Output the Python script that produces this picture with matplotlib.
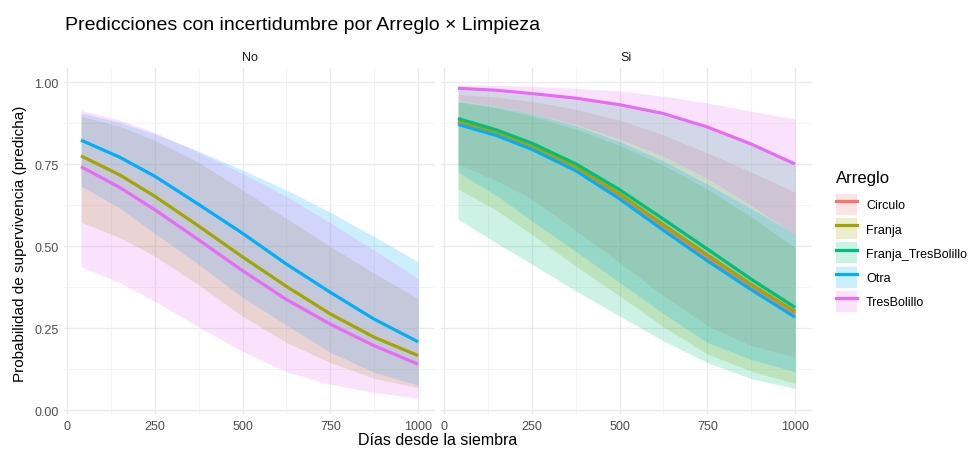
import matplotlib
matplotlib.use("Agg")
import matplotlib.pyplot as plt
from matplotlib.lines import Line2D
from matplotlib.patches import Patch
from matplotlib.legend_handler import HandlerTuple

plt.rcParams["font.family"] = ["Liberation Sans", "DejaVu Sans"]

# ── data ──────────────────────────────────────────────────────────────────
dias = [40, 150, 250, 375, 500, 625, 750, 875, 1000]
arreglos = ["Circulo", "Franja", "Franja_TresBolillo", "Otra", "TresBolillo"]
colores = ["#F8766D", "#A3A500", "#00BF7D", "#00B0F6", "#E76BF3"]

# Limpieza = No
no_franja_fit = [0.776, 0.718, 0.653, 0.562, 0.468, 0.378, 0.294, 0.223, 0.167]
no_franja_lo = [0.574, 0.527, 0.470, 0.383, 0.287, 0.207, 0.146, 0.098, 0.069]
no_franja_hi = [0.897, 0.866, 0.823, 0.756, 0.672, 0.585, 0.500, 0.418, 0.341]
no_otra_fit = [0.824, 0.772, 0.714, 0.628, 0.540, 0.446, 0.360, 0.278, 0.209]
no_otra_lo = [0.684, 0.617, 0.540, 0.445, 0.345, 0.260, 0.177, 0.116, 0.077]
no_otra_hi = [0.907, 0.878, 0.843, 0.790, 0.733, 0.672, 0.604, 0.530, 0.453]
no_tres_fit = [0.743, 0.680, 0.612, 0.520, 0.426, 0.338, 0.263, 0.197, 0.141]
no_tres_lo = [0.438, 0.390, 0.333, 0.255, 0.180, 0.118, 0.080, 0.055, 0.038]
no_tres_hi = [0.915, 0.885, 0.848, 0.786, 0.722, 0.652, 0.572, 0.488, 0.402]

# Limpieza = Si
si_circulo_fit = [0.878, 0.844, 0.802, 0.738, 0.654, 0.559, 0.466, 0.377, 0.294]
si_circulo_lo = [0.751, 0.700, 0.644, 0.548, 0.451, 0.349, 0.258, 0.197, 0.162]
si_circulo_hi = [0.964, 0.955, 0.942, 0.918, 0.885, 0.840, 0.785, 0.727, 0.665]
si_franja_fit = [0.882, 0.848, 0.807, 0.743, 0.660, 0.566, 0.474, 0.384, 0.301]
si_franja_lo = [0.675, 0.610, 0.537, 0.440, 0.349, 0.255, 0.172, 0.120, 0.082]
si_franja_hi = [0.940, 0.922, 0.897, 0.858, 0.808, 0.748, 0.675, 0.590, 0.497]
si_ftb_fit = [0.890, 0.855, 0.815, 0.752, 0.673, 0.583, 0.492, 0.400, 0.314]
si_ftb_lo = [0.583, 0.510, 0.446, 0.365, 0.288, 0.212, 0.146, 0.097, 0.067]
si_ftb_hi = [0.978, 0.972, 0.962, 0.948, 0.928, 0.900, 0.860, 0.808, 0.747]
si_otra_fit = [0.872, 0.838, 0.796, 0.731, 0.645, 0.549, 0.456, 0.368, 0.284]
si_otra_lo = [0.726, 0.655, 0.578, 0.485, 0.390, 0.295, 0.207, 0.155, 0.118]
si_otra_hi = [0.942, 0.926, 0.905, 0.868, 0.820, 0.760, 0.690, 0.615, 0.537]
si_tres_fit = [0.982, 0.976, 0.966, 0.952, 0.932, 0.905, 0.864, 0.812, 0.751]
si_tres_lo = [0.944, 0.928, 0.906, 0.872, 0.828, 0.775, 0.708, 0.625, 0.535]
si_tres_hi = [0.993, 0.991, 0.988, 0.982, 0.974, 0.958, 0.937, 0.912, 0.888]

paneles = {
    "No": {
        "Franja": (no_franja_fit, no_franja_lo, no_franja_hi),
        "Otra": (no_otra_fit, no_otra_lo, no_otra_hi),
        "TresBolillo": (no_tres_fit, no_tres_lo, no_tres_hi),
    },
    "Si": {
        "Circulo": (si_circulo_fit, si_circulo_lo, si_circulo_hi),
        "Franja": (si_franja_fit, si_franja_lo, si_franja_hi),
        "Franja_TresBolillo": (si_ftb_fit, si_ftb_lo, si_ftb_hi),
        "Otra": (si_otra_fit, si_otra_lo, si_otra_hi),
        "TresBolillo": (si_tres_fit, si_tres_lo, si_tres_hi),
    },
}

W, H = 974, 452
fig = plt.figure(figsize=(W / 100, H / 100), dpi=100)
fig.patch.set_facecolor("white")

gris = "#4D4D4D"
bottom_px, top_px = 415, 69
ax_lefts = [64, 441]
ax_w = 371

for i, (limp, series) in enumerate(paneles.items()):
    ax = fig.add_axes([ax_lefts[i] / W, (H - bottom_px) / H, ax_w / W, (bottom_px - top_px) / H])
    ax.set_xlim(-8.5, 1048)
    ax.set_ylim(-0.011, 1.044)
    for s in ax.spines.values():
        s.set_visible(False)
    ax.set_xticks([0, 250, 500, 750, 1000])
    ax.set_xticks([125, 375, 625, 875], minor=True)
    ax.set_yticks([0, 0.25, 0.5, 0.75, 1.0])
    ax.set_yticks([0.125, 0.375, 0.625, 0.875], minor=True)
    ax.grid(which="major", color="#EBEBEB", lw=1.0)
    ax.grid(which="minor", color="#F3F3F3", lw=0.6)
    ax.set_axisbelow(True)
    ax.tick_params(which="both", length=0, colors=gris, labelsize=9, pad=4)
    if i == 0:
        ax.set_yticklabels(["0.00", "0.25", "0.50", "0.75", "1.00"])
    else:
        ax.set_yticklabels([])
    ax.set_title(limp, fontsize=9, color="#1A1A1A", pad=6)

    # ribbons first, then lines (ggplot layer order)
    for name, col in zip(arreglos, colores):
        if name in series:
            fit, lo, hi = series[name]
            ax.fill_between(dias, lo, hi, color=col, alpha=0.2, lw=0)
    for name, col in zip(arreglos, colores):
        if name in series:
            fit, lo, hi = series[name]
            ax.plot(dias, fit, color=col, lw=2.3, solid_capstyle="butt")

fig.text(65 / W, 1 - 26 / H, "Predicciones con incertidumbre por Arreglo \u00d7 Limpieza",
         fontsize=14, color="black", va="center", ha="left")
fig.text(438 / W, 1 - 441 / H, "D\u00edas desde la siembra", fontsize=11.5,
         ha="center", va="center")
fig.text(20 / W, 1 - 244 / H, "Probabilidad de supervivencia (predicha)", fontsize=11,
         rotation=90, ha="center", va="center")

handles = [(Patch(facecolor=c, alpha=0.2, edgecolor="none"),
            Line2D([], [], color=c, lw=2.3)) for c in colores]
leg = fig.legend(handles, arreglos, handler_map={tuple: HandlerTuple(ndivide=1, pad=0)},
                 loc="upper left", bbox_to_anchor=(831 / W, 1 - 166 / H),
                 frameon=False, fontsize=9, title="Arreglo", title_fontsize=12,
                 handlelength=1.66, handleheight=2.2, labelspacing=0.26,
                 handletextpad=0.75, borderaxespad=0)
leg._legend_box.align = "left"
leg._legend_box.sep = 6.5  # extra gap between title and keys

fig.savefig("out.png", dpi=100, facecolor="white")
